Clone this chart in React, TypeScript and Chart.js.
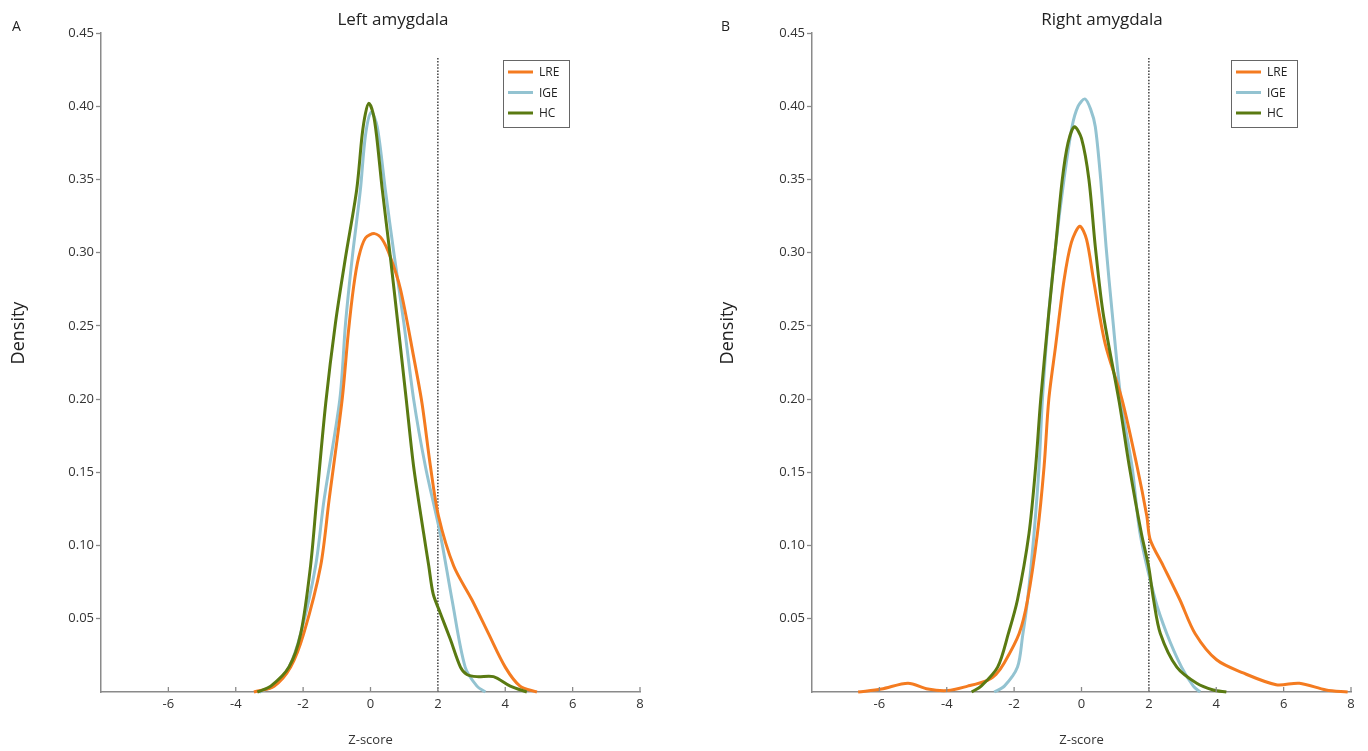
import React, { useEffect, useRef } from "react";
import { Chart, registerables } from "chart.js";

Chart.register(...registerables);

// ---------- data ----------
const SERIES_NAMES = ["LRE", "IGE", "HC"];
const SERIES_COLORS = ["#F47B20", "#93C3D1", "#5A7A12"];
const X_TICKS_MIN = -8;
const X_TICKS_MAX = 8;
const Y_MAX = 0.45;
const THRESHOLD = 2;

// Left amygdala
const leftLreX = [-3.46, -2.86, -2.37, -1.98, -1.48, -1.23, -0.84, -0.66, -0.5, -0.35, -0.15, 0.12, 0.35, 0.59, 0.89, 1.28, 1.53, 1.78, 2.02, 2.47, 3.01, 3.5, 4.0, 4.44, 4.94];
const leftLreY = [0, 0.004, 0.017, 0.04, 0.086, 0.131, 0.2, 0.245, 0.277, 0.297, 0.31, 0.313, 0.309, 0.297, 0.275, 0.229, 0.197, 0.154, 0.12, 0.086, 0.063, 0.04, 0.017, 0.004, 0];

const leftIgeX = [-3.3, -2.9, -2.42, -2.07, -1.63, -1.38, -0.91, -0.74, -0.54, -0.3, -0.15, 0.02, 0.2, 0.44, 0.71, 0.99, 1.28, 1.63, 2.07, 2.42, 2.81, 3.16, 3.41];
const leftIgeY = [0, 0.004, 0.017, 0.04, 0.086, 0.131, 0.2, 0.252, 0.297, 0.343, 0.38, 0.396, 0.386, 0.343, 0.297, 0.252, 0.2, 0.154, 0.108, 0.063, 0.017, 0.004, 0];

const leftHcX = [-3.36, -2.96, -2.42, -2.07, -1.78, -1.6, -1.33, -1.04, -0.74, -0.41, -0.25, -0.15, -0.05, 0.08, 0.18, 0.35, 0.59, 0.81, 1.06, 1.28, 1.58, 1.73, 1.86, 2.07, 2.37, 2.67, 2.86, 3.16, 3.65, 4.15, 4.64];
const leftHcY = [0, 0.004, 0.017, 0.04, 0.086, 0.131, 0.197, 0.252, 0.297, 0.343, 0.38, 0.395, 0.402, 0.395, 0.38, 0.343, 0.297, 0.252, 0.2, 0.154, 0.108, 0.086, 0.067, 0.054, 0.036, 0.017, 0.012, 0.0105, 0.0105, 0.004, 0];

// Right amygdala
const rightLreX = [-6.63, -5.94, -5.15, -4.56, -3.97, -3.38, -2.79, -2.54, -2.29, -1.85, -1.6, -1.31, -1.11, -0.97, -0.77, -0.52, -0.3, -0.05, 0.15, 0.36, 0.7, 1.2, 1.65, 1.94, 2.04, 2.43, 2.92, 3.37, 4.01, 4.8, 5.78, 6.47, 7.26, 7.9];
const rightLreY = [0, 0.002, 0.006, 0.002, 0.001, 0.004, 0.008, 0.012, 0.02, 0.04, 0.063, 0.108, 0.154, 0.2, 0.236, 0.281, 0.307, 0.318, 0.309, 0.281, 0.238, 0.2, 0.154, 0.12, 0.104, 0.086, 0.063, 0.04, 0.022, 0.013, 0.005, 0.006, 0.0014, 0];

const rightIgeX = [-2.59, -2.29, -1.9, -1.75, -1.6, -1.41, -1.26, -1.16, -0.97, -0.77, -0.52, -0.28, -0.1, 0.1, 0.27, 0.41, 0.57, 0.73, 0.91, 1.18, 1.5, 1.74, 2.19, 2.53, 2.97, 3.32, 3.52];
const rightIgeY = [0, 0.004, 0.017, 0.038, 0.063, 0.108, 0.154, 0.2, 0.259, 0.304, 0.35, 0.386, 0.4, 0.405, 0.398, 0.386, 0.35, 0.304, 0.259, 0.198, 0.154, 0.108, 0.063, 0.04, 0.017, 0.004, 0];

const rightHcX = [-3.26, -2.98, -2.49, -2.17, -1.9, -1.56, -1.36, -1.21, -0.97, -0.77, -0.57, -0.4, -0.21, 0.0, 0.22, 0.41, 0.64, 1.12, 1.42, 1.78, 1.99, 2.14, 2.34, 2.83, 3.42, 3.91, 4.3];
const rightHcY = [0, 0.004, 0.017, 0.04, 0.063, 0.108, 0.154, 0.2, 0.259, 0.304, 0.35, 0.375, 0.386, 0.378, 0.35, 0.304, 0.259, 0.198, 0.154, 0.108, 0.086, 0.063, 0.04, 0.017, 0.006, 0.0014, 0];

// ---------- styling ----------
const FONT = '"Open Sans", "Noto Sans", sans-serif';
const AXIS_COLOR = "#8a8a8a";
const TEXT_COLOR = "#333333";

Chart.defaults.font.family = FONT;

type PanelCfg = {
  title: string;
  letter: string;
  xs: number[][];
  ys: number[][];
  axisLeft: number;
  padRight: number;
  titleX: number;
  letterX: number;
  densityX: number;
  legendX: number;
};

const decorPlugin = {
  id: "panelDecor",
  beforeDatasetsDraw(chart: any) {
    const { ctx, chartArea, scales } = chart;
    const px = scales.x.getPixelForValue(THRESHOLD);
    ctx.save();
    ctx.strokeStyle = "#222";
    ctx.lineWidth = 1.3;
    ctx.setLineDash([1.5, 1.6]);
    ctx.beginPath();
    ctx.moveTo(px, 58);
    ctx.lineTo(px, chartArea.bottom);
    ctx.stroke();
    ctx.restore();
  },
  afterDraw(chart: any, _args: any, opts: any) {
    const { ctx, chartArea, scales } = chart;
    const xs = scales.x;
    ctx.save();
    ctx.strokeStyle = AXIS_COLOR;
    ctx.lineWidth = 1.3;
    for (const t of xs.ticks) {
      if (t.value <= X_TICKS_MIN) continue;
      const p = xs.getPixelForValue(t.value);
      ctx.beginPath();
      ctx.moveTo(p, chartArea.bottom);
      ctx.lineTo(p, chartArea.bottom - 5);
      ctx.stroke();
    }
    ctx.fillStyle = "#222";
    ctx.textBaseline = "middle";
    ctx.textAlign = "center";
    ctx.font = `17px ${FONT}`;
    ctx.fillText(opts.title, opts.titleX, 20);
    ctx.textAlign = "left";
    ctx.font = `14px ${FONT}`;
    ctx.fillText(opts.letter, opts.letterX, 27);
    ctx.save();
    ctx.translate(opts.densityX, 333);
    ctx.rotate(-Math.PI / 2);
    ctx.textAlign = "center";
    ctx.font = `18px ${FONT}`;
    ctx.fillText("Density", 0, 0);
    ctx.restore();
    const lx = opts.legendX;
    const ly = 60;
    const lw = 66;
    const lh = 67;
    ctx.fillStyle = "#fff";
    ctx.fillRect(lx, ly, lw, lh);
    ctx.strokeStyle = "#666";
    ctx.lineWidth = 1;
    ctx.strokeRect(lx + 0.5, ly + 0.5, lw, lh);
    chart.data.datasets.forEach((ds: any, i: number) => {
      const yy = ly + 12 + i * 20.5;
      ctx.strokeStyle = ds.borderColor;
      ctx.lineWidth = 3;
      ctx.beginPath();
      ctx.moveTo(lx + 5, yy);
      ctx.lineTo(lx + 30, yy);
      ctx.stroke();
      ctx.fillStyle = "#222";
      ctx.font = `12px ${FONT}`;
      ctx.textAlign = "left";
      ctx.textBaseline = "middle";
      ctx.fillText(ds.label, lx + 36, yy + 1);
    });
    ctx.restore();
  },
};

function buildConfig(p: PanelCfg): any {
  const order = [1, 2, 0];
  return {
    type: "scatter",
    data: {
      datasets: SERIES_NAMES.map((name, i) => ({
        label: name,
        data: p.xs[i].map((x, j) => ({ x, y: p.ys[i][j] })),
        showLine: true,
        borderColor: SERIES_COLORS[i],
        backgroundColor: SERIES_COLORS[i],
        borderWidth: 3,
        pointRadius: 0,
        pointHoverRadius: 0,
        tension: 0.3,
        fill: false,
        clip: false,
        order: order[i],
      })),
    },
    plugins: [decorPlugin],
    options: {
      animation: false,
      responsive: false,
      devicePixelRatio: 1,
      events: [],
      layout: { padding: { left: 0, top: 33, right: p.padRight, bottom: 0 } },
      plugins: {
        legend: { display: false },
        tooltip: { enabled: false },
        title: { display: false },
        panelDecor: {
          title: p.title,
          letter: p.letter,
          titleX: p.titleX,
          letterX: p.letterX,
          densityX: p.densityX,
          legendX: p.legendX,
        },
      },
      scales: {
        x: {
          type: "linear",
          min: X_TICKS_MIN,
          max: X_TICKS_MAX,
          afterFit: (s: any) => {
            s.height = 59;
          },
          ticks: {
            stepSize: 2,
            autoSkip: false,
            padding: 4,
            color: TEXT_COLOR,
            font: { size: 13, family: FONT },
            callback: (v: number) => (v <= X_TICKS_MIN ? "" : String(v)),
          },
          grid: { display: true, drawOnChartArea: false, drawTicks: false },
          border: { display: true, color: AXIS_COLOR, width: 1.5 },
          title: {
            display: true,
            text: "Z-score",
            color: TEXT_COLOR,
            font: { size: 13, family: FONT },
            padding: { top: 0, bottom: 3 },
          },
        },
        y: {
          type: "linear",
          min: 0,
          max: Y_MAX,
          afterFit: (s: any) => {
            s.width = p.axisLeft;
          },
          ticks: {
            stepSize: 0.05,
            autoSkip: false,
            padding: 2,
            color: TEXT_COLOR,
            font: { size: 13, family: FONT },
            callback: (v: number) => (Math.abs(v) < 1e-9 ? "" : v.toFixed(2)),
          },
          grid: {
            display: true,
            drawOnChartArea: false,
            drawTicks: true,
            tickLength: 5,
            tickWidth: 1.3,
            color: (c: any) => (c.tick && Math.abs(c.tick.value) < 1e-9 ? "rgba(0,0,0,0)" : AXIS_COLOR),
          },
          border: { display: true, color: AXIS_COLOR, width: 1.5 },
        },
      },
    },
  };
}

const LEFT: PanelCfg = {
  title: "Left amygdala",
  letter: "A",
  xs: [leftLreX, leftIgeX, leftHcX],
  ys: [leftLreY, leftIgeY, leftHcY],
  axisLeft: 101,
  padRight: 44,
  titleX: 393,
  letterX: 12,
  densityX: 19,
  legendX: 503,
};

const RIGHT: PanelCfg = {
  title: "Right amygdala",
  letter: "B",
  xs: [rightLreX, rightIgeX, rightHcX],
  ys: [rightLreY, rightIgeY, rightHcY],
  axisLeft: 128,
  padRight: 17,
  titleX: 418,
  letterX: 37,
  densityX: 44,
  legendX: 547,
};

function Panel({ cfg, left }: { cfg: PanelCfg; left: number }) {
  const ref = useRef<HTMLCanvasElement | null>(null);
  useEffect(() => {
    if (!ref.current) return;
    const chart = new Chart(ref.current, buildConfig(cfg));
    return () => chart.destroy();
  }, [cfg]);
  return (
    <div style={{ position: "absolute", left, top: 0, width: 684, height: 751 }}>
      <canvas ref={ref} width={684} height={751} style={{ display: "block", width: 684, height: 751 }} />
    </div>
  );
}

export default function App() {
  return (
    <div style={{ position: "absolute", left: 0, top: 0, width: 1368, height: 751, background: "#fff", overflow: "hidden" }}>
      <Panel cfg={LEFT} left={0} />
      <Panel cfg={RIGHT} left={684} />
    </div>
  );
}
